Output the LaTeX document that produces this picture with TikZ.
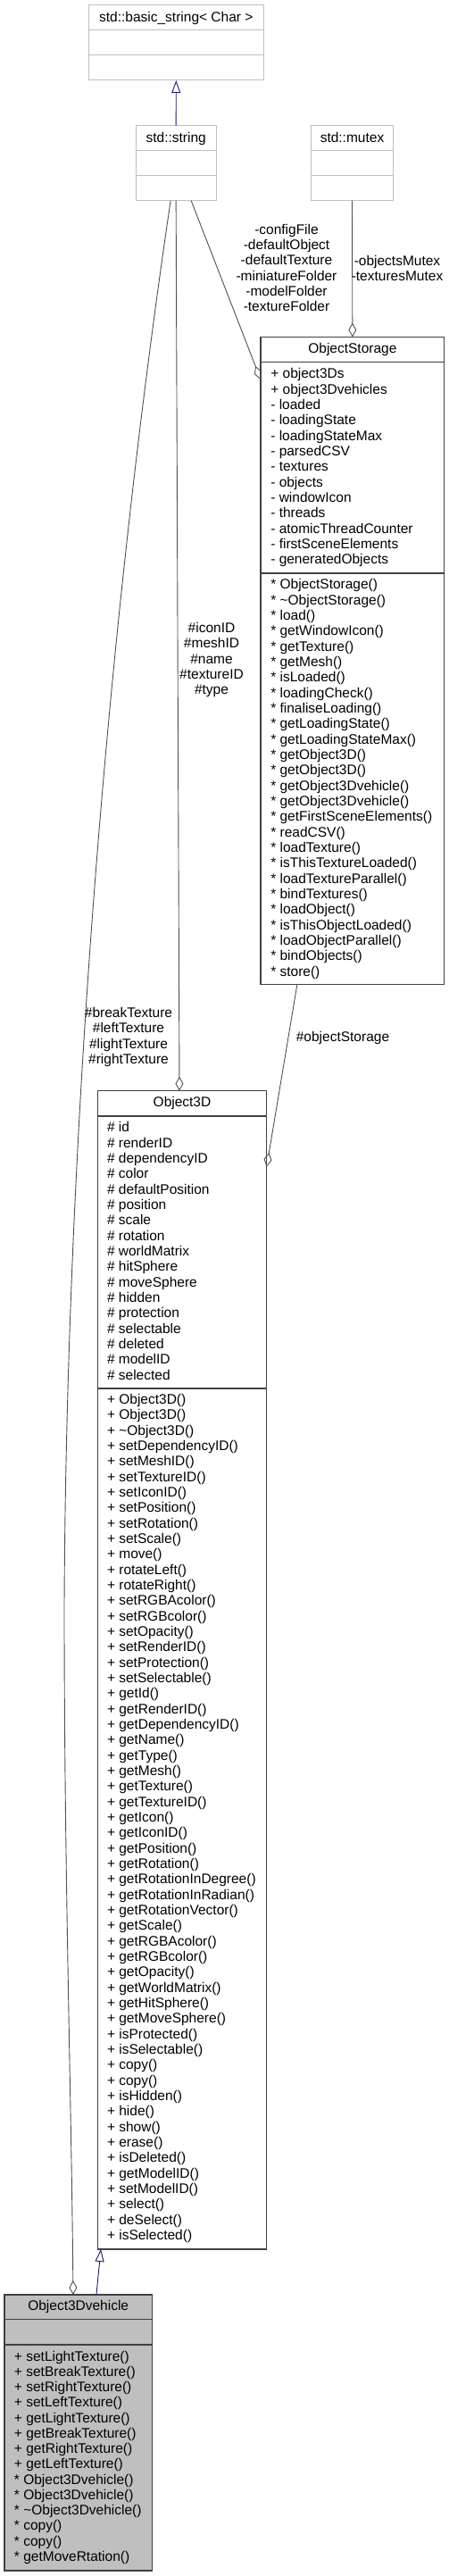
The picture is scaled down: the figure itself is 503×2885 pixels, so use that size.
\documentclass[tikz,border=0pt]{standalone}
\usepackage{fontspec}
\setmainfont{Liberation Sans}
\usetikzlibrary{arrows.meta}
\definecolor{lightbd}{HTML}{BFBFBF}
\definecolor{darkbd}{HTML}{404040}
\definecolor{edgec}{HTML}{505050}
\definecolor{inhc}{HTML}{191970}
\definecolor{rootfill}{HTML}{BFBFBF}
\begin{document}
\begin{tikzpicture}[x=1pt,y=-1pt,
  every node/.style={font=\fontsize{15.5}{17.33}\selectfont, inner sep=0pt, outer sep=0pt},
  lightbox/.style={draw=lightbd, line width=1pt, rectangle, anchor=north west},
  darkbox/.style={draw=darkbd, line width=1.3pt, rectangle, anchor=north west, fill=white},
  rootbox/.style={draw=darkbd, line width=1.3pt, rectangle, anchor=north west, fill=rootfill},
  lightsep/.style={draw=lightbd, line width=1pt},
  darksep/.style={draw=darkbd, line width=1.3pt},
  item/.style={anchor=base west},
  ttl/.style={anchor=base},
  agg/.style={draw=edgec, line width=0.9pt, -{Diamond[open,length=16pt,width=9pt]}},
  inh/.style={draw=inhc, line width=0.9pt, -{Triangle[open,length=14pt,width=10pt]}},
  elabel/.style={align=center}
]
\useasboundingbox (0,0) rectangle (503,2885);

% ---------- std::basic_string<Char>
\node[lightbox, minimum width=196pt, minimum height=84.3pt] (bs) at (99.3,5.7) {};
\draw[lightsep] ([yshift=-28pt]bs.north west) -- ([yshift=-28pt]bs.north east);
\draw[lightsep] ([yshift=-56pt]bs.north west) -- ([yshift=-56pt]bs.north east);
\node[ttl] (bst) at (197.3,24.2) {std::basic\_string< Char >};

% ---------- std::string
\node[lightbox, minimum width=89.7pt, minimum height=84pt] (str) at (152.3,140.7) {};
\draw[lightsep] ([yshift=-27.8pt]str.north west) -- ([yshift=-27.8pt]str.north east);
\draw[lightsep] ([yshift=-56pt]str.north west) -- ([yshift=-56pt]str.north east);
\node[ttl] (strt) at (197.2,159.5) {std::string};

% ---------- std::mutex
\node[lightbox, minimum width=92.4pt, minimum height=84pt] (mx) at (348.3,140.7) {};
\draw[lightsep] ([yshift=-27.8pt]mx.north west) -- ([yshift=-27.8pt]mx.north east);
\draw[lightsep] ([yshift=-56pt]mx.north west) -- ([yshift=-56pt]mx.north east);
\node[ttl] (mxt) at (394.5,159.5) {std::mutex};

% ---------- ObjectStorage
\node[darkbox, minimum width=205.7pt, minimum height=725.3pt] (os) at (292,377.5) {};
\draw[darksep] ([yshift=-28.2pt]os.north west) -- ([yshift=-28.2pt]os.north east);
\draw[darksep] ([yshift=-264.5pt]os.north west) -- ([yshift=-264.5pt]os.north east);
\node[ttl] (ost) at (394.9,395.5) {ObjectStorage};
\foreach \t [count=\i from 0] in {+ object3Ds, + object3Dvehicles, - loaded, - loadingState,
  - loadingStateMax, - parsedCSV, - textures, - objects, - windowIcon, - threads,
  - atomicThreadCounter, - firstSceneElements, - generatedObjects}
  {\node[item] (osa\i) at (303.3,{423.8+17.33*\i}) {\t};}
\foreach \t [count=\i from 0] in {* ObjectStorage(), * \textasciitilde ObjectStorage(), * load(),
  * getWindowIcon(), * getTexture(), * getMesh(), * isLoaded(), * loadingCheck(),
  * finaliseLoading(), * getLoadingState(), * getLoadingStateMax(), * getObject3D(),
  * getObject3D(), * getObject3Dvehicle(), * getObject3Dvehicle(), * getFirstSceneElements(),
  * readCSV(), * loadTexture(), * isThisTextureLoaded(), * loadTextureParallel(),
  * bindTextures(), * loadObject(), * isThisObjectLoaded(), * loadObjectParallel(),
  * bindObjects(), * store()}
  {\node[item] (osm\i) at (303.3,{659.8+17.33*\i}) {\t};}

% ---------- Object3D
\node[darkbox, minimum width=189.4pt, minimum height=1297.3pt] (o3d) at (109.3,1221.7) {};
\draw[darksep] ([yshift=-28.3pt]o3d.north west) -- ([yshift=-28.3pt]o3d.north east);
\draw[darksep] ([yshift=-333.3pt]o3d.north west) -- ([yshift=-333.3pt]o3d.north east);
\node[ttl] (o3dt) at (204,1239.5) {Object3D};
\foreach \t [count=\i from 0] in {id, renderID, dependencyID, color, defaultPosition, position,
  scale, rotation, worldMatrix, hitSphere, moveSphere, hidden, protection, selectable,
  deleted, modelID, selected}
  {\node[item] (o3a\i) at (120,{1267.8+17.33*\i}) {\# \t};}
\foreach \t [count=\i from 0] in {Object3D(), Object3D(), \textasciitilde Object3D(),
  setDependencyID(), setMeshID(), setTextureID(), setIconID(), setPosition(), setRotation(),
  setScale(), move(), rotateLeft(), rotateRight(), setRGBAcolor(), setRGBcolor(),
  setOpacity(), setRenderID(), setProtection(), setSelectable(), getId(), getRenderID(),
  getDependencyID(), getName(), getType(), getMesh(), getTexture(), getTextureID(),
  getIcon(), getIconID(), getPosition(), getRotation(), getRotationInDegree(),
  getRotationInRadian(), getRotationVector(), getScale(), getRGBAcolor(), getRGBcolor(),
  getOpacity(), getWorldMatrix(), getHitSphere(), getMoveSphere(), isProtected(),
  isSelectable(), copy(), copy(), isHidden(), hide(), show(), erase(), isDeleted(),
  getModelID(), setModelID(), select(), deSelect(), isSelected()}
  {\node[item] (o3m\i) at (120,{1572.5+17.33*\i}) {+ \t};}

% ---------- Object3Dvehicle
\node[rootbox, minimum width=165.3pt, minimum height=309pt] (veh) at (5,2570) {};
\draw[darksep] ([yshift=-27.7pt]veh.north west) -- ([yshift=-27.7pt]veh.north east);
\draw[darksep] ([yshift=-56pt]veh.north west) -- ([yshift=-56pt]veh.north east);
\node[ttl] (veht) at (87.7,2587.5) {Object3Dvehicle};
\foreach \t [count=\i from 0] in {+ setLightTexture(), + setBreakTexture(), + setRightTexture(),
  + setLeftTexture(), + getLightTexture(), + getBreakTexture(), + getRightTexture(),
  + getLeftTexture(), * Object3Dvehicle(), * Object3Dvehicle(), * \textasciitilde Object3Dvehicle(),
  * copy(), * copy(), * getMoveRtation()}
  {\node[item] (vm\i) at (16,{2644+17.25*\i}) {\t};}

% ---------- connectors
\draw[inh] (str.north) -- (bs.south);
\draw[agg] (mx.south) -- (os.north);
\draw[agg] ([xshift=17pt]str.south) -- ([yshift=-47.5pt]os.north west);
\draw[agg] (str.south) -- ([xshift=-3pt]o3d.north);
\draw[agg] ([xshift=-62pt]os.south) -- ([yshift=-85pt]o3d.north east);
\draw[agg] ([xshift=-6pt]str.south) .. controls (117,725) and (74,1300) .. (72,1800)
  .. controls (72,2100) and (80,2350) .. ([xshift=-5.7pt]veh.north);
\draw[inh] ([xshift=20.3pt]veh.north) -- ([xshift=-91pt]o3d.south);

% ---------- edge labels
\node[elabel] (lcfg) at (321,300) {-configFile\\-defaultObject\\-defaultTexture\\-miniatureFolder\\-modelFolder\\-textureFolder};
\node[elabel] (lmtx) at (445,300.5) {-objectsMutex\\-texturesMutex};
\node[elabel] (lid) at (237,739) {\#iconID\\\#meshID\\\#name\\\#textureID\\\#type};
\node[elabel] (ltex) at (144,1161.5) {\#breakTexture\\\#leftTexture\\\#lightTexture\\\#rightTexture};
\node[elabel] (lobs) at (384,1162) {\#objectStorage};
\end{tikzpicture}
\end{document}
